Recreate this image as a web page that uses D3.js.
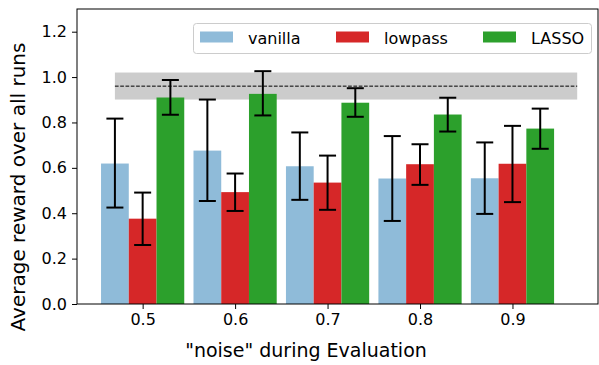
<!DOCTYPE html>
<html><head><meta charset="utf-8">
<script src="https://cdn.jsdelivr.net/npm/d3@7"></script>
<style>body{margin:0;background:#fff}svg{display:block;font-family:"DejaVu Sans",sans-serif}</style>
</head><body><svg id="c" width="599" height="365"></svg>
<script>
const categories = ["0.5","0.6","0.7","0.8","0.9"];
const seriesNames = ["vanilla","lowpass","LASSO"];
const seriesColors = ["#8fbbd9","#d62728","#2ca02c"];
const vanilla    = [0.619, 0.676, 0.607, 0.553, 0.554];
const vanillaLo  = [0.425, 0.454, 0.459, 0.366, 0.397];
const vanillaHi  = [0.817, 0.901, 0.756, 0.740, 0.712];
const lowpass    = [0.376, 0.493, 0.535, 0.616, 0.618];
const lowpassLo  = [0.260, 0.410, 0.415, 0.525, 0.449];
const lowpassHi  = [0.491, 0.575, 0.654, 0.704, 0.785];
const lasso      = [0.910, 0.926, 0.887, 0.835, 0.773];
const lassoLo    = [0.834, 0.831, 0.825, 0.760, 0.684];
const lassoHi    = [0.987, 1.026, 0.951, 0.909, 0.861];
const refMean = 0.960, refLo = 0.901, refHi = 1.020;
const refSpan = [-0.3, 4.7];
const yTicks = [0.0, 0.2, 0.4, 0.6, 0.8, 1.0, 1.2];

const series = [
  {name: seriesNames[0], color: seriesColors[0], v: vanilla, lo: vanillaLo, hi: vanillaHi},
  {name: seriesNames[1], color: seriesColors[1], v: lowpass, lo: lowpassLo, hi: lowpassHi},
  {name: seriesNames[2], color: seriesColors[2], v: lasso, lo: lassoLo, hi: lassoHi}
];

const L = 77, R = 598, T = 9, B = 304;
const barW = 0.3;
const svg = d3.select("#c");
const x = d3.scaleLinear().domain([-0.71, 4.925]).range([L, R]);
const y = d3.scaleLinear().domain([0, 1.3]).range([B, T]);

// reference band
svg.append("rect").attr("x", x(refSpan[0])).attr("width", x(refSpan[1]) - x(refSpan[0]))
  .attr("y", y(refHi)).attr("height", y(refLo) - y(refHi)).attr("fill", "#cccccc");
svg.append("line").attr("x1", x(refSpan[0])).attr("x2", x(refSpan[1]))
  .attr("y1", y(refMean)).attr("y2", y(refMean))
  .attr("stroke", "#000").attr("stroke-width", 1).attr("stroke-dasharray", "3.7,1.6");

// bars
series.forEach((s, si) => {
  const off = (si - 1) * barW;
  const g = svg.append("g");
  g.selectAll("rect").data(categories).join("rect")
    .attr("x", (d, i) => x(i + off - barW / 2))
    .attr("width", x(barW) - x(0))
    .attr("y", (d, i) => y(s.v[i]))
    .attr("height", (d, i) => y(0) - y(s.v[i]))
    .attr("fill", s.color);
});
// error bars
series.forEach((s, si) => {
  const off = (si - 1) * barW;
  const g = svg.append("g").attr("stroke", "#000").attr("stroke-width", 2);
  categories.forEach((c, i) => {
    const cx = x(i + off);
    g.append("line").attr("x1", cx).attr("x2", cx).attr("y1", y(s.lo[i])).attr("y2", y(s.hi[i]));
    g.append("line").attr("x1", cx - 8.5).attr("x2", cx + 8.5).attr("y1", y(s.lo[i])).attr("y2", y(s.lo[i]));
    g.append("line").attr("x1", cx - 8.5).attr("x2", cx + 8.5).attr("y1", y(s.hi[i])).attr("y2", y(s.hi[i]));
  });
});

// axes
const xAxis = d3.axisBottom(x).tickValues(d3.range(categories.length))
  .tickFormat(i => categories[i]).tickSize(5).tickPadding(5);
const gx = svg.append("g").attr("transform", `translate(0,${B})`).call(xAxis);
const yAxis = d3.axisLeft(y).tickValues(yTicks).tickFormat(d3.format(".1f")).tickSize(5).tickPadding(5);
const gy = svg.append("g").attr("transform", `translate(${L},0)`).call(yAxis);
[gx, gy].forEach(g => {
  g.select(".domain").remove();
  g.selectAll("text").attr("font-size", 16).attr("fill", "#000").attr("font-family", "DejaVu Sans");
  g.selectAll("line").attr("stroke", "#000").attr("stroke-width", 1);
});
// spines
svg.append("rect").attr("x", L).attr("y", T).attr("width", R - L).attr("height", B - T)
  .attr("fill", "none").attr("stroke", "#000").attr("stroke-width", 1);

// labels
svg.append("text").attr("x", 306).attr("y", 357).attr("text-anchor", "middle")
  .attr("font-size", 19).text('"noise" during Evaluation');
svg.append("text").attr("transform", `translate(25,187) rotate(-90)`)
  .attr("text-anchor", "middle").attr("font-size", 20).text("Average reward over all runs");

// legend
const lg = svg.append("g");
lg.append("rect").attr("x", 193.5).attr("y", 23.5).attr("width", 398).attr("height", 30)
  .attr("rx", 3).attr("fill", "#fff").attr("fill-opacity", 0.8).attr("stroke", "#cccccc");
const lx = [200, 336, 483];
series.forEach((s, i) => {
  lg.append("rect").attr("x", lx[i]).attr("y", 31.5).attr("width", 33).attr("height", 11).attr("fill", s.color);
  lg.append("text").attr("x", lx[i] + 48).attr("y", 43.5).attr("font-size", 16).text(s.name);
});
</script></body></html>
